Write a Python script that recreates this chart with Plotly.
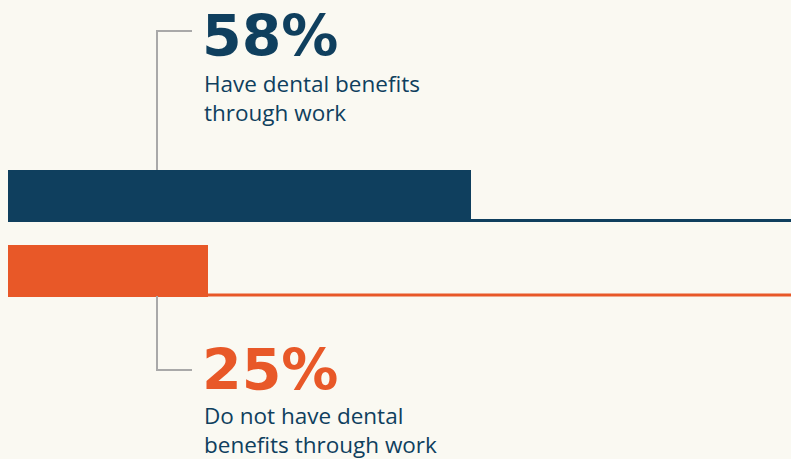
import plotly.graph_objects as go

# Share of workers by dental-benefit status
labels = ["Have dental benefits<br>through work", "Do not have dental<br>benefits through work"]
values = [58, 25]
colors = ["#0f3f5e", "#e85828"]

BG = "#faf9f2"
GRAY = "#a9a9a9"
W, H = 791, 459
ML = 8  # left margin in px
X_MAX = 98.1  # value shown at the right edge of the plot area

# vertical layout (pixel rows on a reversed y axis)
bar_centers = [196, 270.5]
bar_height = 52

def px_to_paper(px):
    return (px - ML) / (W - ML)

fig = go.Figure()

for val, col, yc in zip(values, colors, bar_centers):
    fig.add_trace(go.Bar(
        x=[val], y=[yc], orientation="h", width=bar_height,
        marker=dict(color=col, line=dict(width=0)),
        hoverinfo="skip", showlegend=False,
    ))
    # thin track along the bottom of each bar to the right edge
    y_bottom = yc + bar_height / 2 - 1.5
    fig.add_shape(type="line", xref="x", yref="y",
                  x0=val, x1=X_MAX, y0=y_bottom, y1=y_bottom,
                  line=dict(color=col, width=3), layer="below")

# connector brackets from the bars to their labels
cx = px_to_paper(157)
hx = px_to_paper(192)
fig.add_shape(type="path", xref="paper", yref="y",
              path=f"M {cx},170 L {cx},31 L {hx},31",
              line=dict(color=GRAY, width=2))
fig.add_shape(type="path", xref="paper", yref="y",
              path=f"M {cx},296 L {cx},370 L {hx},370",
              line=dict(color=GRAY, width=2))

# big percentage figures and descriptions
big_x = px_to_paper(200)
desc_x = px_to_paper(202)
big_y = [36, 370]
desc_y = [98, 430]
for val, col, lab, by, dy in zip(values, colors, labels, big_y, desc_y):
    fig.add_annotation(x=big_x, y=by, xref="paper", yref="y",
                       text=f"<b>{val}%</b>", showarrow=False,
                       xanchor="left", yanchor="middle",
                       font=dict(family="DejaVu Sans", size=57, color=col))
    fig.add_annotation(x=desc_x, y=dy, xref="paper", yref="y",
                       text=lab, showarrow=False, align="left",
                       xanchor="left", yanchor="middle",
                       font=dict(family="Open Sans", size=22.5, color=colors[0]))

fig.update_layout(
    width=W, height=H,
    margin=dict(l=ML, r=0, t=0, b=0),
    paper_bgcolor=BG, plot_bgcolor=BG,
    bargap=0,
    xaxis=dict(range=[0, X_MAX], visible=False, fixedrange=True),
    yaxis=dict(range=[H, 0], visible=False, fixedrange=True),
)

fig.write_html("out.html")
